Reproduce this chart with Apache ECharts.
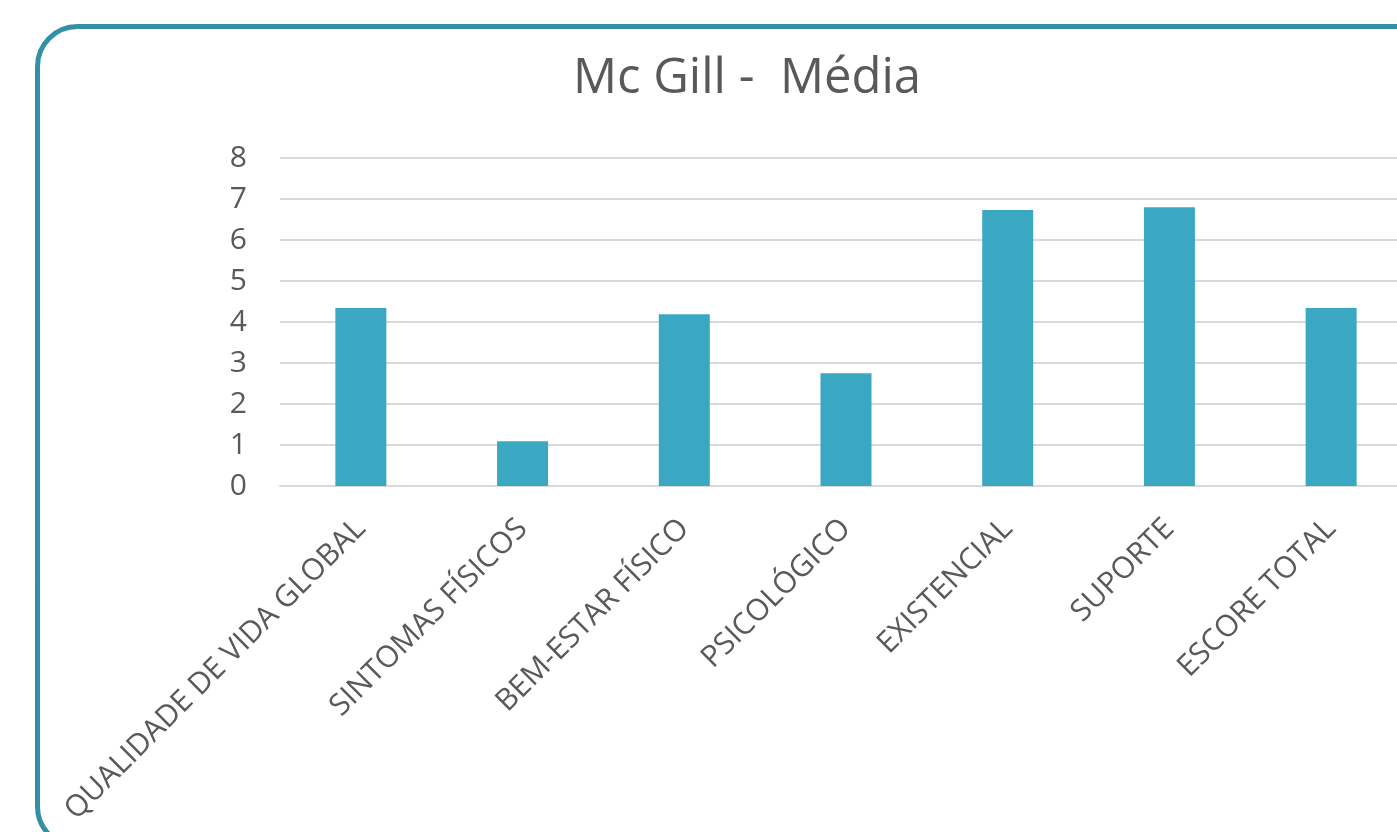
<!DOCTYPE html>
<html>
<head>
<meta charset="utf-8">
<script src="https://cdn.jsdelivr.net/npm/echarts@6/dist/echarts.min.js"></script>
<style>
  html, body { margin: 0; padding: 0; background: #fff; overflow: hidden; }
  /* o gráfico original é cortado à direita: o div passa da janela */
  #main { width: 1440px; height: 832px; }
</style>
</head>
<body>
<div id="main"></div>
<script>
// categorias e médias
var categorias = ['QUALIDADE DE VIDA GLOBAL', 'SINTOMAS FÍSICOS', 'BEM-ESTAR FÍSICO', 'PSICOLÓGICO', 'EXISTENCIAL', 'SUPORTE', 'ESCORE TOTAL'];
var medias = [4.34, 1.09, 4.19, 2.75, 6.73, 6.80, 4.34];
var yTicks = [0, 1, 2, 3, 4, 5, 6, 7, 8];

var fonte = '"Open Sans", "Noto Sans", sans-serif';
var cinza = '#595959';

var myChart = echarts.init(document.getElementById('main'));
var option = {
    animation: false,
    title: {
        text: 'Mc Gill -  Média',
        left: 742,
        textAlign: 'center',
        top: 50,
        textStyle: { fontFamily: fonte, fontSize: 49, fontWeight: 'normal', color: cinza }
    },
    // moldura arredondada
    graphic: [{
        type: 'rect',
        shape: { x: 37.5, y: 26.5, width: 1500, height: 820, r: 40 },
        style: { fill: 'none', stroke: '#3190a6', lineWidth: 5 },
        silent: true
    }],
    grid: { left: 280, top: 158, width: 1132, height: 328, containLabel: false },
    xAxis: {
        type: 'category',
        data: categorias,
        axisTick: { show: false },
        axisLine: { lineStyle: { color: '#d9d9d9', width: 2 } },
        axisLabel: {
            rotate: 45,
            interval: 0,
            margin: 38,
            fontFamily: fonte,
            fontSize: 30,
            color: cinza
        }
    },
    yAxis: {
        type: 'value',
        min: yTicks[0],
        max: yTicks[yTicks.length - 1],
        interval: 1,
        axisLine: { show: false },
        axisTick: { show: false },
        splitLine: { lineStyle: { color: '#d9d9d9', width: 2 } },
        axisLabel: { fontFamily: fonte, fontSize: 30, color: cinza, margin: 33 }
    },
    series: [{
        type: 'bar',
        data: medias,
        barWidth: 51,
        itemStyle: { color: '#3ba8c3' }
    }]
};
myChart.setOption(option);
</script>
</body>
</html>
